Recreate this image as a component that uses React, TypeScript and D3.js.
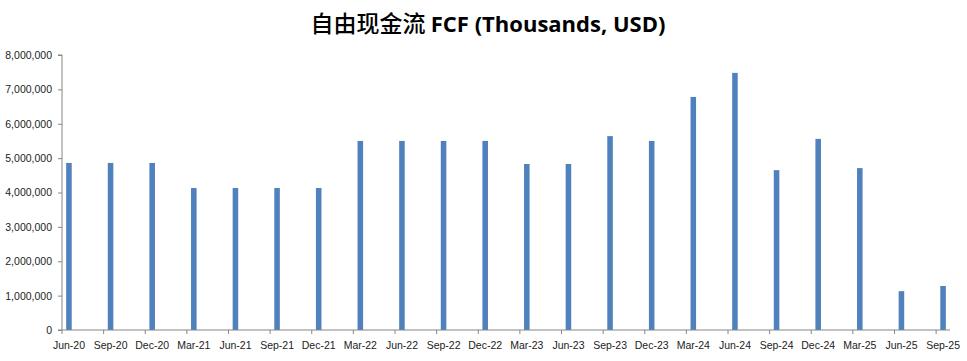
import React, { useRef, useEffect } from 'react'
import * as d3 from 'd3'

const categories = [
  'Jun-20', 'Sep-20', 'Dec-20', 'Mar-21', 'Jun-21', 'Sep-21', 'Dec-21', 'Mar-22',
  'Jun-22', 'Sep-22', 'Dec-22', 'Mar-23', 'Jun-23', 'Sep-23', 'Dec-23', 'Mar-24',
  'Jun-24', 'Sep-24', 'Dec-24', 'Mar-25', 'Jun-25', 'Sep-25'
]
const fcfValues = [
  4860000, 4860000, 4860000, 4130000, 4130000, 4130000, 4130000, 5500000,
  5500000, 5500000, 5500000, 4830000, 4830000, 5640000, 5500000, 6780000,
  7480000, 4650000, 5560000, 4710000, 1130000, 1280000
]
const yTicks = [0, 1000000, 2000000, 3000000, 4000000, 5000000, 6000000, 7000000, 8000000]

const W = 967
const H = 361
const LABEL_FONT = '"Liberation Sans", Arial, sans-serif'

export default function App() {
  const svgRef = useRef<SVGSVGElement>(null)

  useEffect(() => {
    if (!svgRef.current) return
    const svg = d3.select(svgRef.current)
    svg.selectAll('*').remove()

    const left = 62, right = 950, top = 55, bottom = 330

    // date axis by month: one slot per month, one bar every 3rd month
    const monthCount = categories.length * 3 - 2
    const x = d3.scaleBand<number>()
      .domain(d3.range(monthCount))
      .range([left, right])
      .paddingInner(0.6)
      .paddingOuter(0.3)
    const xTick = d3.scaleLinear().domain([0, monthCount]).range([left, right])
    const slot = x.step()

    const y = d3.scaleLinear().domain([0, 8000000]).range([bottom, top])

    const g = svg.append('g')

    // bars
    g.selectAll('.bar')
      .data(fcfValues)
      .enter()
      .append('rect')
      .attr('class', 'bar')
      .attr('x', (d, i) => x(i * 3)!)
      .attr('y', d => y(d))
      .attr('width', x.bandwidth())
      .attr('height', d => bottom - y(d))
      .attr('fill', '#4f81bd')

    // y axis
    const yAxis = d3.axisLeft(y)
      .tickValues(yTicks)
      .tickSize(4)
      .tickPadding(6)
      .tickFormat(d => d3.format(',')(d as number))
    const ya = g.append('g').attr('transform', `translate(${left},0)`).call(yAxis)
    ya.select('.domain').attr('stroke', '#868686').attr('d', `M-4,${top}H0V${bottom}H-4`)
    ya.selectAll('line').attr('stroke', '#868686')
    ya.selectAll('text')
      .style('font-family', LABEL_FONT)
      .style('font-size', '10.5px')
      .attr('fill', '#222')

    // x axis
    const xa = g.append('g')
    xa.append('line')
      .attr('x1', left).attr('x2', right)
      .attr('y1', bottom).attr('y2', bottom)
      .attr('stroke', '#868686')
    xa.selectAll('.tick')
      .data(categories)
      .enter()
      .append('line')
      .attr('x1', (d, i) => xTick(i * 3))
      .attr('x2', (d, i) => xTick(i * 3))
      .attr('y1', bottom)
      .attr('y2', bottom + 4)
      .attr('stroke', '#868686')
    xa.selectAll('.lbl')
      .data(categories)
      .enter()
      .append('text')
      .attr('x', (d, i) => xTick(i * 3) + slot / 2)
      .attr('y', 349)
      .attr('text-anchor', 'middle')
      .style('font-family', LABEL_FONT)
      .style('font-size', '10.5px')
      .attr('fill', '#222')
      .text(d => d)

    // title
    const t = svg.append('text')
      .attr('x', 488)
      .attr('y', 32)
      .attr('text-anchor', 'middle')
      .attr('fill', '#000')
    t.append('tspan')
      .style('font-family', '"Noto Sans CJK SC", sans-serif')
      .style('font-weight', 500)
      .style('font-size', '23px')
      .text('自由现金流 ')
    t.append('tspan')
      .style('font-family', '"Open Sans", "Liberation Sans", sans-serif')
      .style('font-weight', 700)
      .style('font-size', '22px')
      .text('FCF (Thousands, USD)')
  }, [])

  return (
    <svg
      ref={svgRef}
      width={W}
      height={H}
      style={{ position: 'absolute', left: 0, top: 0, background: '#fff' }}
    />
  )
}
